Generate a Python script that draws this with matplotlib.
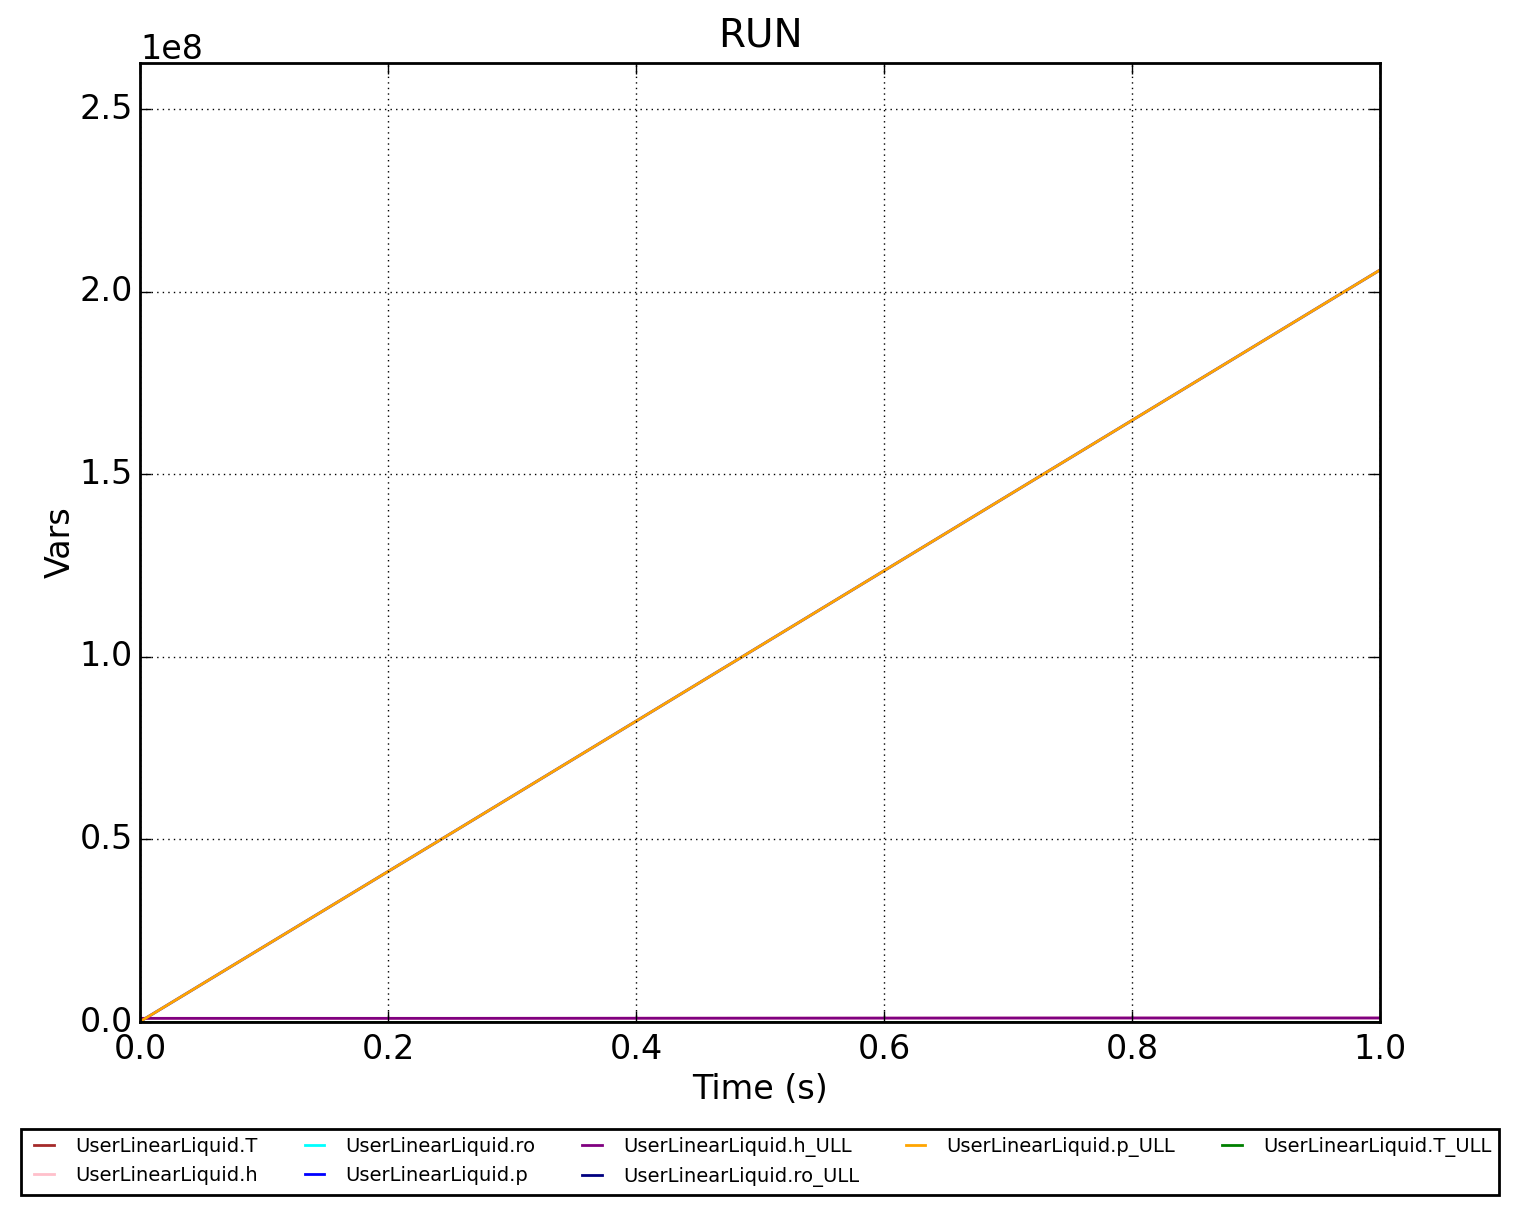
import matplotlib
matplotlib.use("Agg")
import matplotlib.pyplot as plt

# time axis and series
time_s = [0.0, 0.25, 0.5, 0.75, 1.0]

T_vals = [293.0, 293.0, 293.0, 293.0, 293.0]
h_vals = [1.0e6, 1.0e6, 1.05e6, 1.1e6, 1.1e6]
ro_vals = [1000.0, 1000.0, 1000.0, 1000.0, 1000.0]
p_vals = [1.0e5, 5.15e7, 1.03e8, 1.545e8, 2.06e8]
h_ULL_vals = [1.0e6, 1.0e6, 1.05e6, 1.1e6, 1.1e6]
ro_ULL_vals = [1000.0, 1000.0, 1000.0, 1000.0, 1000.0]
p_ULL_vals = [1.0e5, 5.15e7, 1.03e8, 1.545e8, 2.06e8]
T_ULL_vals = [293.0, 293.0, 293.0, 293.0, 293.0]

series = [
    ("UserLinearLiquid.T", T_vals, "brown"),
    ("UserLinearLiquid.h", h_vals, "pink"),
    ("UserLinearLiquid.ro", ro_vals, "cyan"),
    ("UserLinearLiquid.p", p_vals, "blue"),
    ("UserLinearLiquid.h_ULL", h_ULL_vals, "purple"),
    ("UserLinearLiquid.ro_ULL", ro_ULL_vals, "navy"),
    ("UserLinearLiquid.p_ULL", p_ULL_vals, "orange"),
    ("UserLinearLiquid.T_ULL", T_ULL_vals, "green"),
]

plt.style.use("classic")
plt.rcParams["font.family"] = ["DejaVu Sans"]

fig = plt.figure(figsize=(15.2, 12.14), dpi=100, facecolor="white")
ax = fig.add_axes([140 / 1520, 1 - 1022 / 1214, 1240 / 1520, 959 / 1214])
ax.set_facecolor("white")

for label, vals, color in series:
    ax.plot(time_s, vals, color=color, linewidth=2, label=label)

ax.set_xlim(0.0, 1.0)
ax.set_ylim(0.0, 2.627e8)
ax.grid(True, color="k", linestyle=":", linewidth=1)
ax.tick_params(axis="x", labelsize=24, length=8, width=1, pad=8)
ax.tick_params(axis="y", labelsize=24, length=8, width=1, pad=5)
ax.yaxis.get_offset_text().set_fontsize(24)
ax.set_xlabel("Time (s)", fontsize=24)
ax.set_ylabel("Vars", fontsize=24, labelpad=2)
ax.set_title("RUN", fontsize=28, pad=12)
for sp in ax.spines.values():
    sp.set_linewidth(2)

leg = fig.legend(loc="lower center", bbox_to_anchor=(0.5, 0.008), ncol=5,
                 fontsize=14, frameon=True, handlelength=1.6, handletextpad=0.8,
                 columnspacing=2.1)
leg.get_frame().set_linewidth(2)

fig.savefig("out.png", dpi=100, facecolor="white")
